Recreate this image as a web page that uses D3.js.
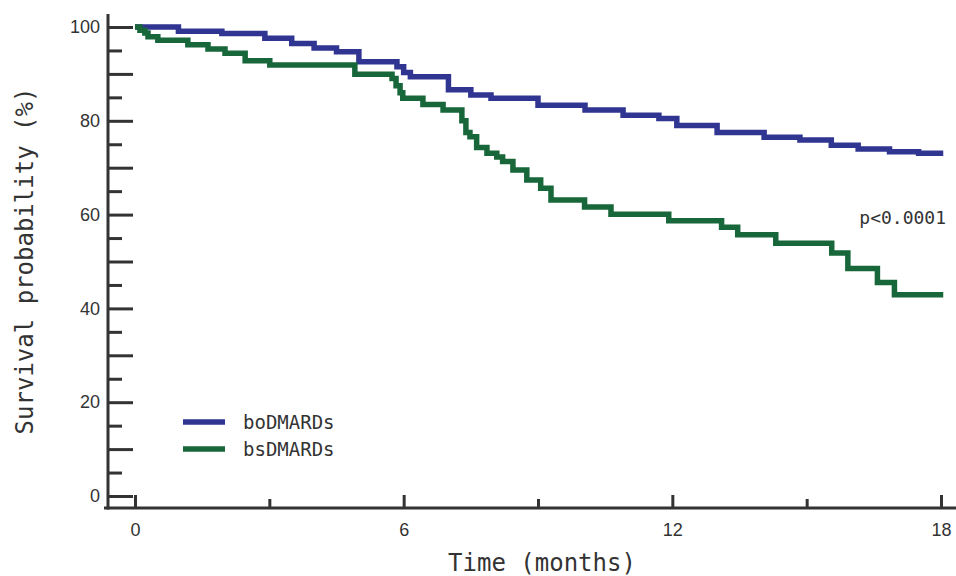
<!DOCTYPE html>
<meta charset="utf-8">
<style>
body {
    margin: 0;
    background: #fff;
}
svg {
    font-family: "DejaVu Sans Mono", monospace;
}
.axis text {
    fill: #333;
    font-size: 18px;
}
.axis line {
    stroke: #333;
    stroke-width: 3px;
}
</style>
<body>
<svg width="956" height="576"></svg>

<script src="https://d3js.org/d3.v7.min.js"></script>
<script>

// time (months) where each step starts, survival (%) from then on
var boTimes  = [0, 0.97, 1.94, 2.9, 3.5, 4.0, 4.5, 5.0, 5.85, 6.0, 6.15, 7.0, 7.5, 7.95, 9.0, 10.05, 10.9, 11.7, 12.1, 13.0, 14.05, 14.85, 15.55, 16.15, 16.85, 17.5, 18.05];
var boSurv   = [100, 99.1, 98.6, 97.6, 96.5, 95.5, 94.7, 92.6, 91.5, 90.3, 89.4, 86.6, 85.5, 84.8, 83.3, 82.3, 81.2, 80.5, 79.0, 77.5, 76.5, 75.9, 74.8, 74.0, 73.4, 73.1, 73.1];

var bsTimes  = [0, 0.11, 0.22, 0.29, 0.51, 1.18, 1.63, 2.01, 2.46, 3.01, 4.91, 5.74, 5.83, 5.92, 5.98, 6.43, 6.88, 7.3, 7.39, 7.48, 7.63, 7.86, 8.08, 8.21, 8.44, 8.75, 9.06, 9.29, 10.04, 10.63, 11.92, 13.1, 13.46, 14.31, 15.56, 15.92, 16.58, 16.96, 18.05];
var bsSurv   = [100, 99.3, 98.7, 97.9, 97.2, 96.2, 95.3, 94.4, 92.8, 91.9, 89.9, 89.0, 87.5, 86.0, 84.8, 83.5, 82.3, 80.0, 77.5, 76.6, 74.3, 73.1, 72.3, 71.3, 69.5, 67.4, 65.6, 63.1, 61.6, 60.1, 58.7, 57.3, 55.7, 53.9, 51.8, 48.5, 45.5, 42.9, 42.9];

var groups   = ["boDMARDs", "bsDMARDs"];
var colors   = ["#303592", "#18673a"];

var xMajor = [0, 6, 12, 18];
var xMinor = [3, 9, 15];
var yMajor = [0, 10, 20, 30, 40, 50, 60, 70, 80, 90, 100];
var yMinor = [5, 15, 25, 35, 45, 55, 65, 75, 85, 95];

var pText = "p<0.0001";

var svg = d3.select("svg");

var x = d3.scaleLinear().domain([0, 18]).range([135, 941]);
var y = d3.scaleLinear().domain([0, 100]).range([496, 27]);

var axisX = 108, axisY = 508;

// axis lines
svg.append("line")
    .attr("x1", axisX).attr("x2", axisX)
    .attr("y1", 14).attr("y2", axisY + 1.5)
    .attr("stroke", "#333").attr("stroke-width", 3);

svg.append("line")
    .attr("x1", 104).attr("x2", 956)
    .attr("y1", axisY).attr("y2", axisY)
    .attr("stroke", "#333").attr("stroke-width", 3);

// y ticks point inward
svg.append("g")
    .attr("class", "axis")
    .attr("transform", "translate(" + axisX + ",0)")
    .call(d3.axisLeft(y).tickValues(yMajor).tickSize(-25).tickPadding(8)
        .tickFormat(function(d) { return d % 20 === 0 ? d : ""; }))
    .call(function(g) { g.select(".domain").remove(); });

svg.append("g")
    .attr("class", "axis")
    .attr("transform", "translate(" + axisX + ",0)")
    .call(d3.axisLeft(y).tickValues(yMinor).tickSize(-14).tickFormat(""))
    .call(function(g) { g.select(".domain").remove(); });

// x ticks point up
svg.append("g")
    .attr("class", "axis")
    .attr("transform", "translate(0," + axisY + ")")
    .call(d3.axisBottom(x).tickValues(xMajor).tickSize(-13).tickPadding(15))
    .call(function(g) { g.select(".domain").remove(); });

svg.append("g")
    .attr("class", "axis")
    .attr("transform", "translate(0," + axisY + ")")
    .call(d3.axisBottom(x).tickValues(xMinor).tickSize(-9).tickFormat(""))
    .call(function(g) { g.select(".domain").remove(); });

// axis titles
svg.append("text")
    .attr("x", 542).attr("y", 571)
    .attr("text-anchor", "middle")
    .attr("fill", "#333")
    .style("font-size", "24px")
    .text("Time (months)");

svg.append("text")
    .attr("transform", "translate(33,261) rotate(-90)")
    .attr("text-anchor", "middle")
    .attr("fill", "#333")
    .style("font-size", "24px")
    .text("Survival probability (%)");

// survival curves
var line = d3.line()
    .x(function(d) { return x(d[0]); })
    .y(function(d) { return y(d[1]); })
    .curve(d3.curveStepAfter);

var series = [d3.zip(boTimes, boSurv), d3.zip(bsTimes, bsSurv)];

svg.selectAll(".km")
    .data(series)
    .enter().append("path")
    .attr("class", "km")
    .attr("d", line)
    .attr("fill", "none")
    .attr("stroke", function(d, i) { return colors[i]; })
    .attr("stroke-width", 5.5);

// legend
var legend = svg.selectAll(".legend")
    .data(groups)
    .enter().append("g")
    .attr("class", "legend")
    .attr("transform", function(d, i) { return "translate(183," + (422 + i * 27) + ")"; });

legend.append("line")
    .attr("x1", 0).attr("x2", 42)
    .attr("stroke", function(d, i) { return colors[i]; })
    .attr("stroke-width", 5.5);

legend.append("text")
    .attr("x", 60).attr("y", 0)
    .attr("dy", "0.35em")
    .attr("fill", "#333")
    .style("font-size", "19px")
    .text(function(d) { return d; });

// p value
svg.append("text")
    .attr("x", 946).attr("y", 218)
    .attr("dy", "0.35em")
    .attr("text-anchor", "end")
    .attr("fill", "#333")
    .style("font-size", "18px")
    .text(pText);

</script>
</body>
